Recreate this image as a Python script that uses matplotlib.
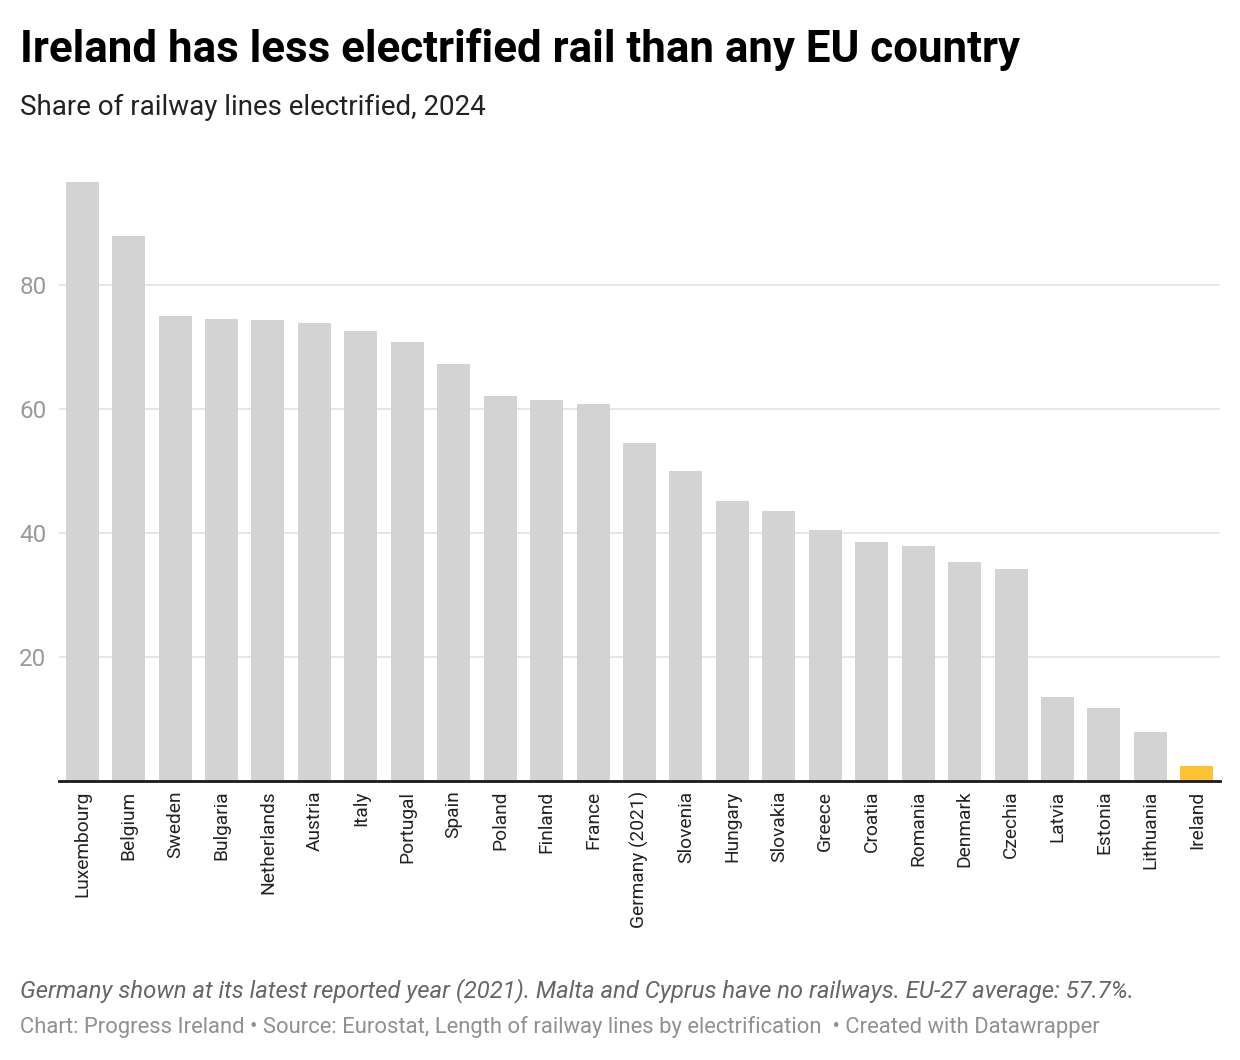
import matplotlib
matplotlib.use("Agg")
import matplotlib.pyplot as plt

plt.rcParams['font.family'] = ['Roboto', 'DejaVu Sans']

# Share of railway lines electrified, 2024 (%)
countries = ["Luxembourg", "Belgium", "Sweden", "Bulgaria", "Netherlands", "Austria",
             "Italy", "Portugal", "Spain", "Poland", "Finland", "France",
             "Germany (2021)", "Slovenia", "Hungary", "Slovakia", "Greece", "Croatia",
             "Romania", "Denmark", "Czechia", "Latvia", "Estonia", "Lithuania", "Ireland"]
shares = [96.6, 87.9, 75.0, 74.5, 74.4, 73.9,
          72.6, 70.8, 67.3, 62.1, 61.5, 60.8,
          54.5, 50.0, 45.2, 43.5, 40.5, 38.5,
          37.9, 35.3, 34.2, 13.5, 11.8, 7.9, 2.4]
highlight = "Ireland"
yticks = [20, 40, 60, 80]

W, H = 1240, 1060
fig = plt.figure(figsize=(W / 100, H / 100), dpi=100)
ax = fig.add_axes([59 / W, 1 - 781 / H, (1220 - 59) / W, (781 - 161) / H])

colors = ["#fcc433" if c == highlight else "#d3d3d3" for c in countries]
x = range(len(countries))
ax.bar(x, shares, width=0.71, color=colors, zorder=2)

ax.set_xlim(-0.5, len(countries) - 0.5)
ax.set_ylim(0, 100)
ax.set_yticks(yticks)
ax.set_yticklabels([str(t) for t in yticks])
ax.grid(axis='y', color='#e5e5e5', linewidth=1.3, zorder=0)
ax.set_axisbelow(True)

for s in ['top', 'right', 'left']:
    ax.spines[s].set_visible(False)
ax.spines['bottom'].set_color('#1a1a1a')
ax.spines['bottom'].set_linewidth(2)
ax.spines['bottom'].set_zorder(3)

ax.set_xticks(list(x))
ax.set_xticklabels(countries, rotation=90, fontsize=13.8, color='#222222')
ax.tick_params(axis='x', length=0, pad=7)
ax.tick_params(axis='y', length=0, pad=9, labelsize=17.5, labelcolor='#9a9a9a')
for lbl in ax.get_yticklabels():
    lbl.set_horizontalalignment('right')

fig.text(20 / W, 1 - 62 / H, "Ireland has less electrified rail than any EU country",
         fontsize=31.6, fontweight='bold', color='#000000', va='baseline')
fig.text(20 / W, 1 - 115 / H, "Share of railway lines electrified, 2024",
         fontsize=20, color='#222222', va='baseline')
fig.text(20 / W, 1 - 997 / H,
         "Germany shown at its latest reported year (2021). Malta and Cyprus have no railways. EU-27 average: 57.7%.",
         fontsize=17.2, style='italic', color='#666666', va='baseline')
fig.text(20 / W, 1 - 1033 / H,
         "Chart: Progress Ireland \u2022 Source: Eurostat, Length of railway lines by electrification  \u2022 Created with Datawrapper",
         fontsize=15.8, color='#909090', va='baseline')

fig.savefig("out.png", dpi=100)
